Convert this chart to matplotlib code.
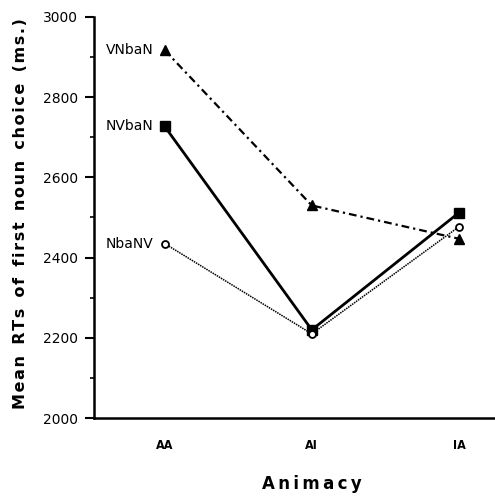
import matplotlib.pyplot as plt
from matplotlib.ticker import MultipleLocator

# Datos
categorias = ['AA', 'AI', 'IA']
vnban = [2917, 2530, 2447]
nvban = [2727, 2220, 2512]
nbanv = [2435, 2210, 2477]

plt.rcParams['font.family'] = 'DejaVu Sans'

fig = plt.figure(figsize=(4.95, 4.96), dpi=100)
ax = fig.add_axes([0.190, 0.157, 0.810, 0.809])

x = list(range(len(categorias)))

ax.plot(x, vnban, color='black', lw=1.6, linestyle=(0, (3.5, 1.8, 1, 1.8)),
        marker='^', ms=7, mfc='black', mec='black')
ax.plot(x, nvban, color='black', lw=2.0, linestyle='-',
        marker='s', ms=6.5, mfc='black', mec='black')
ax.plot(x, nbanv, color='black', lw=1.1, linestyle=(0, (1, 0.6)),
        marker='o', ms=5, mfc='white', mec='black', mew=1.3)

# etiquetas de las series
for nombre, serie in [('VNbaN', vnban), ('NVbaN', nvban), ('NbaNV', nbanv)]:
    ax.annotate(nombre, (x[0], serie[0]), xytext=(-8, 0), textcoords='offset points',
                ha='right', va='center', fontsize=10)

ax.set_xlim(-0.48, 2.245)
ax.set_ylim(2000, 3000)
ax.set_xticks(x)
ax.set_xticklabels(categorias, fontsize=9, fontweight='bold', fontstretch='condensed')
ax.tick_params(axis='x', length=0, pad=15)

ax.yaxis.set_major_locator(MultipleLocator(200))
ax.yaxis.set_minor_locator(MultipleLocator(100))
ax.tick_params(axis='y', which='major', length=6.5, width=1.5, pad=5, labelsize=10)
ax.tick_params(axis='y', which='minor', length=3, width=1.2)

ax.spines['top'].set_visible(False)
ax.spines['right'].set_visible(False)
ax.spines['left'].set_linewidth(1.8)
ax.spines['bottom'].set_linewidth(1.8)

palabras = ['Mean', 'RTs', 'of', 'first', 'noun', 'choice', '(ms.)']
etiqueta_y = '  '.join('\u200a'.join(p) for p in palabras)
ax.set_ylabel(etiqueta_y, fontsize=11.5, fontweight='bold')
ax.yaxis.set_label_coords(-0.165, 0.51)
ax.text(1, -0.165, '\u2009'.join('Animacy'), transform=ax.get_xaxis_transform(),
        ha='center', va='center', fontsize=12, fontweight='bold')

fig.savefig('out.png', dpi=100)
